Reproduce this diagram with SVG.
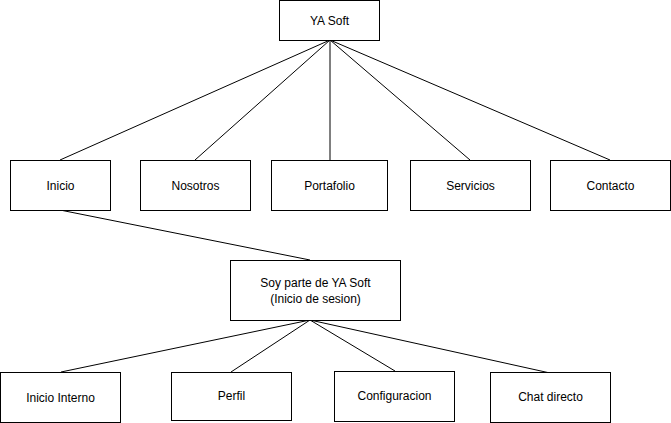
<svg xmlns="http://www.w3.org/2000/svg" width="671" height="423" viewBox="0 0 671 423">
<style>
.box{fill:#fff;stroke:#000;stroke-width:1}
.lbl{font-family:"Liberation Sans",Arial,sans-serif;font-size:12px;fill:#000;text-anchor:middle;dominant-baseline:central}
.edge{stroke:#000;stroke-width:1;fill:none}
</style>
<rect width="671" height="423" fill="#fff"/>
<g id="connectors">
<line class="edge" x1="330" y1="40" x2="60" y2="160"/>
<line class="edge" x1="330" y1="40" x2="195" y2="160"/>
<line class="edge" x1="330" y1="40" x2="330" y2="160"/>
<line class="edge" x1="330" y1="40" x2="470" y2="160"/>
<line class="edge" x1="330" y1="40" x2="610" y2="160"/>
<line class="edge" x1="60" y1="210" x2="310" y2="260"/>
<line class="edge" x1="310" y1="320" x2="61" y2="372"/>
<line class="edge" x1="310" y1="320" x2="231" y2="372"/>
<line class="edge" x1="310" y1="320" x2="395" y2="371"/>
<line class="edge" x1="310" y1="320" x2="550" y2="373"/>
</g>
<g id="ya-soft"><rect class="box" x="279.5" y="0.5" width="100" height="40"/><text class="lbl" x="329.5" y="20.5">YA Soft</text></g>
<g id="inicio"><rect class="box" x="10.5" y="160.5" width="100" height="50"/><text class="lbl" x="60.5" y="185.5">Inicio</text></g>
<g id="nosotros"><rect class="box" x="140.5" y="160.5" width="110" height="50"/><text class="lbl" x="195.5" y="185.5">Nosotros</text></g>
<g id="portafolio"><rect class="box" x="271.5" y="160.5" width="116" height="50"/><text class="lbl" x="329.5" y="185.5">Portafolio</text></g>
<g id="servicios"><rect class="box" x="410.5" y="160.5" width="120" height="50"/><text class="lbl" x="470.5" y="185.5">Servicios</text></g>
<g id="contacto"><rect class="box" x="550.5" y="160.5" width="120" height="50"/><text class="lbl" x="610.5" y="185.5">Contacto</text></g>
<g id="soy-parte"><rect class="box" x="230.5" y="260.5" width="170" height="60"/><text class="lbl" x="315.5" y="282.5">Soy parte de YA Soft</text><text class="lbl" x="315.5" y="298.5">(Inicio de sesion)</text></g>
<g id="inicio-interno"><rect class="box" x="0.5" y="372.5" width="120" height="50"/><text class="lbl" x="60.5" y="397.5">Inicio Interno</text></g>
<g id="perfil"><rect class="box" x="171.5" y="372.5" width="120" height="48"/><text class="lbl" x="231.5" y="395.5">Perfil</text></g>
<g id="configuracion"><rect class="box" x="334.5" y="371.5" width="120" height="50"/><text class="lbl" x="394.5" y="395.5">Configuracion</text></g>
<g id="chat-directo"><rect class="box" x="490.5" y="372.5" width="120" height="50"/><text class="lbl" x="550.5" y="397">Chat directo</text></g>
</svg>
